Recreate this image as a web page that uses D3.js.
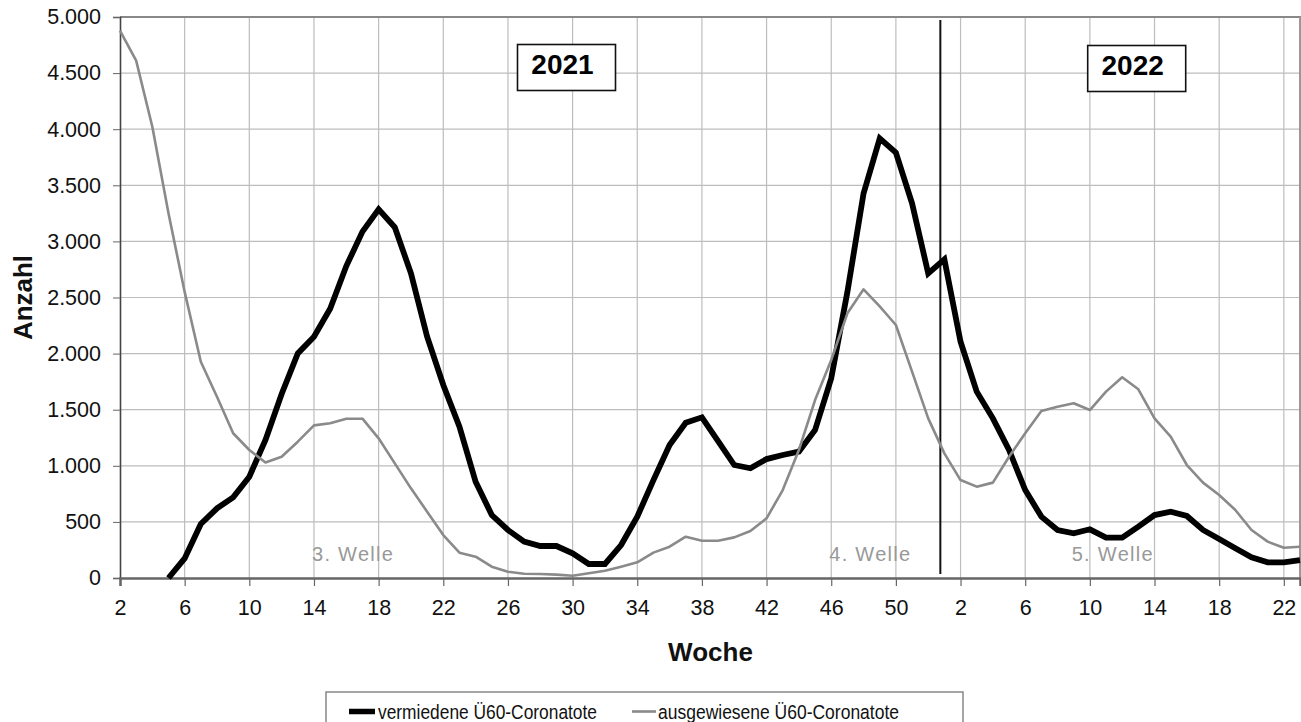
<!DOCTYPE html>
<html><head><meta charset="utf-8">
<script src="https://cdn.jsdelivr.net/npm/d3@7/dist/d3.min.js"></script>
<style>
html,body{margin:0;padding:0;background:#fff;}
text{font-family:"Liberation Sans",Arial,sans-serif;}
</style></head>
<body><svg id="chart" width="1301" height="722"></svg>
<script>
// ---- data ----
const weeks2021 = d3.range(2, 53).map(w => "2021-" + w);
const weeks2022 = d3.range(1, 24).map(w => "2022-" + w);
const categories = weeks2021.concat(weeks2022);

// vermiedene Ü60-Coronatote (starting 2021 week 2)
const vermiedene = [null, null, null, 0, 175, 481, 621, 719, 903, 1230,
  1640, 2002, 2151, 2400, 2780, 3087, 3286, 3126, 2715, 2150,
  1720, 1349, 858, 561, 428, 324, 285, 285, 220, 125,
  125, 294, 546, 873, 1185, 1384, 1432, 1220, 1007, 978,
  1060, 1096, 1126, 1319, 1780, 2550, 3428, 3918, 3791, 3339,
  2715,
  2840, 2106, 1661, 1423, 1141, 784, 547, 428, 398, 434,
  360, 360, 458, 561, 591, 553, 428, 348, 265, 184,
  140, 140, 160];

// ausgewiesene Ü60-Coronatote
const ausgewiesene = [4878, 4611, 4022, 3250, 2550, 1928, 1616, 1290, 1141, 1030,
  1081, 1215, 1360, 1380, 1420, 1420, 1245, 1022, 799, 591,
  383, 226, 190, 101, 56, 38, 36, 30, 20, 42,
  65, 101, 140, 226, 279, 368, 332, 332, 362, 419,
  532, 784, 1141, 1586, 1943, 2359, 2573, 2420, 2255, 1839,
  1423,
  1111, 873, 814, 850, 1081, 1290, 1488, 1527, 1557, 1497,
  1661, 1789, 1682, 1423, 1260, 1007, 850, 740, 606, 428,
  324, 270, 279];

const yTicks = [0, 500, 1000, 1500, 2000, 2500, 3000, 3500, 4000, 4500, 5000];
const xTickKeys = categories.filter((c, i) => i % 4 === 0);
const xTickLabels = xTickKeys.map(k => k.split("-")[1]);

const seriesNames = ["vermiedene Ü60-Coronatote", "ausgewiesene Ü60-Coronatote"];
const waveLabels = ["3. Welle", "4. Welle", "5. Welle"];
const waveKeys = ["2021-14", "2021-46", "2022-9"];
const yearLabels = ["2021", "2022"];
const yearSeparator = 50.75; // between 2021 week 52 and 2022 week 1 (index)

// ---- layout ----
const svg = d3.select("#chart");
const L = 120, R = 1300, T = 17, B = 578;

const x = d3.scalePoint().domain(categories).range([L, R]).padding(0);
const xi = d3.scaleLinear().domain([0, categories.length - 1]).range([L, R]);
const y = d3.scaleLinear().domain([0, 5000]).range([B, T]);
const de = d3.formatLocale({decimal: ",", thousands: ".", grouping: [3], currency: ["", "€"]});
const fmt = de.format(",.0f");

// grid
const g = svg.append("g");
g.selectAll(".hg").data(yTicks.filter(v => v > 0 && v < 5000)).join("line")
  .attr("x1", L).attr("x2", R).attr("y1", d => y(d)).attr("y2", d => y(d))
  .attr("stroke", "#bdbdbd").attr("stroke-width", 1.2);
g.selectAll(".vg").data(xTickKeys.slice(1)).join("line")
  .attr("x1", d => x(d)).attr("x2", d => x(d)).attr("y1", T).attr("y2", B)
  .attr("stroke", "#bdbdbd").attr("stroke-width", 1.2);

// frame
svg.append("line").attr("x1", L).attr("x2", R + 1).attr("y1", T).attr("y2", T)
  .attr("stroke", "#888").attr("stroke-width", 2.2);
svg.append("line").attr("x1", R).attr("x2", R).attr("y1", T).attr("y2", B)
  .attr("stroke", "#999").attr("stroke-width", 2);

// axes
const yAxis = d3.axisLeft(y).tickValues(yTicks).tickFormat(fmt).tickSize(7).tickPadding(12);
const ya = svg.append("g").attr("transform", `translate(${L},0)`).call(yAxis);
ya.select(".domain").attr("stroke", "#444").attr("stroke-width", 1.6);
ya.selectAll(".tick line").attr("stroke", "#666");
ya.selectAll(".tick text").attr("font-size", 21.5).attr("fill", "#111")
  .attr("font-family", '"Liberation Sans",Arial,sans-serif');

const xAxis = d3.axisBottom(x).tickValues(xTickKeys)
  .tickFormat((d, i) => xTickLabels[i]).tickSize(8).tickPadding(14);
const xa = svg.append("g").attr("transform", `translate(0,${B})`).call(xAxis);
xa.select(".domain").attr("stroke", "#666").attr("stroke-width", 2.5);
xa.selectAll(".tick line").attr("stroke", "#666").attr("stroke-width", 1.2);
xa.selectAll(".tick text").attr("font-size", 21.5).attr("fill", "#111")
  .attr("font-family", '"Liberation Sans",Arial,sans-serif');

// axis titles
svg.append("text").attr("x", 710.5).attr("y", 661).attr("text-anchor", "middle")
  .attr("font-size", 26).attr("font-weight", "bold").attr("fill", "#111").text("Woche");
svg.append("text").attr("transform", `translate(32,340) rotate(-90)`)
  .attr("font-size", 26).attr("font-weight", "bold")
  .attr("textLength", 85).attr("lengthAdjust", "spacingAndGlyphs")
  .attr("fill", "#111").text("Anzahl");

// year separator
svg.append("line").attr("x1", xi(yearSeparator)).attr("x2", xi(yearSeparator))
  .attr("y1", 20).attr("y2", 574).attr("stroke", "#111").attr("stroke-width", 2);

// wave labels
svg.selectAll(".wave").data(waveLabels).join("text")
  .attr("x", (d, i) => x(waveKeys[i]) - 2).attr("y", 561)
  .attr("font-size", 20).attr("fill", "#999")
  .attr("textLength", 81).attr("lengthAdjust", "spacing").text(d => d);

// lines
const line = d3.line().defined(d => d[1] !== null)
  .x(d => x(d[0])).y(d => y(d[1]));
svg.append("path").datum(categories.map((c, i) => [c, vermiedene[i]]))
  .attr("d", line).attr("fill", "none").attr("stroke", "#000")
  .attr("stroke-width", 5.8).attr("stroke-linejoin", "miter").attr("stroke-miterlimit", 2);
svg.append("path").datum(categories.map((c, i) => [c, ausgewiesene[i]]))
  .attr("d", line).attr("fill", "none").attr("stroke", "#8a8a8a")
  .attr("stroke-width", 2.6).attr("stroke-linejoin", "round");

// year boxes
const yearBoxX = [566.5, 1136.7];
yearLabels.forEach((lab, i) => {
  const bw = 98, bh = 46;
  const bx = yearBoxX[i];
  svg.append("rect").attr("x", bx - bw / 2).attr("y", 44.5 + i).attr("width", bw).attr("height", bh)
    .attr("fill", "#fff").attr("stroke", "#111").attr("stroke-width", 1.6);
  svg.append("text").attr("x", bx - 4).attr("y", 74 + i).attr("text-anchor", "middle")
    .attr("font-size", 28).attr("font-weight", "bold").attr("fill", "#000").text(lab);
});

// legend
const lg = svg.append("g");
lg.append("rect").attr("x", 326).attr("y", 692).attr("width", 637).attr("height", 40)
  .attr("fill", "#fff").attr("stroke", "#888").attr("stroke-width", 1.5);
lg.append("line").attr("x1", 349).attr("x2", 375).attr("y1", 711.5).attr("y2", 711.5)
  .attr("stroke", "#000").attr("stroke-width", 5.5);
lg.append("text").attr("x", 378).attr("y", 719).attr("font-size", 20.5).attr("fill", "#111")
  .attr("textLength", 219).attr("lengthAdjust", "spacingAndGlyphs")
  .text(seriesNames[0]);
lg.append("line").attr("x1", 632).attr("x2", 656).attr("y1", 711.5).attr("y2", 711.5)
  .attr("stroke", "#8a8a8a").attr("stroke-width", 2.6);
lg.append("text").attr("x", 658).attr("y", 719).attr("font-size", 20.5).attr("fill", "#111")
  .attr("textLength", 241).attr("lengthAdjust", "spacingAndGlyphs")
  .text(seriesNames[1]);
</script></body></html>
